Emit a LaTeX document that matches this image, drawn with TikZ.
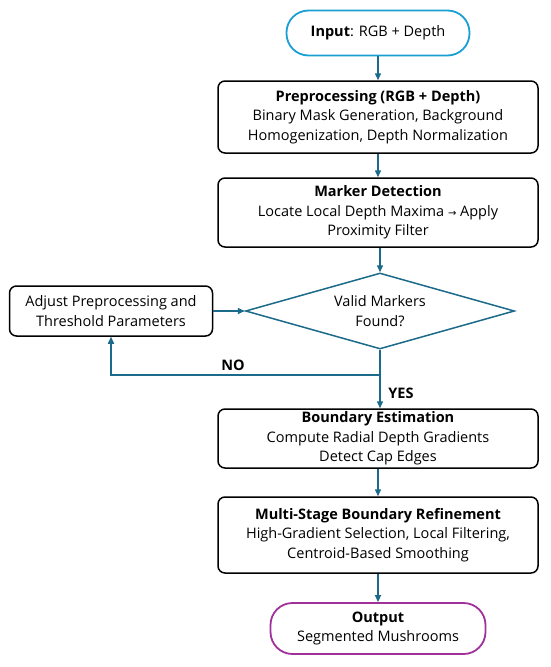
\documentclass[tikz,border=0pt]{standalone}
\usepackage{fontspec}
\setmainfont{Open Sans}
\newfontfamily\symfont{DejaVu Sans}
\usetikzlibrary{shapes.geometric,arrows.meta}
\definecolor{conn}{HTML}{1B6A8A}
\definecolor{inblue}{HTML}{1A9FD5}
\definecolor{outmag}{HTML}{A0309A}
\tikzset{
  every node/.style={font=\fontsize{14.5}{19.5}\selectfont, align=center, inner sep=0pt},
  procbox/.style={draw=black, line width=1.5pt, rounded corners=7pt, minimum width=320pt},
  termbox/.style={line width=1.8pt, rounded corners=22pt},
  decbox/.style={diamond, aspect=3.5, draw=conn, line width=1.5pt, minimum width=269pt, minimum height=76pt},
  arr/.style={draw=conn, line width=1.5pt, -{Triangle[length=7pt,width=6pt]}},
  lbl/.style={font=\fontsize{14.5}{16}\selectfont\bfseries}
}
\begin{document}
\begin{tikzpicture}
\useasboundingbox (0pt,0pt) rectangle (550pt,-667pt);
\node[termbox, draw=inblue, minimum width=183pt, minimum height=45pt] (in) at (378pt,-33pt) {\textbf{Input}: RGB + Depth};
\node[procbox, minimum height=72pt] (pre) at (378pt,-117pt) {\textbf{Preprocessing (RGB + Depth)}\\Binary Mask Generation, Background\\Homogenization, Depth Normalization};
\node[procbox, minimum height=69pt] (mark) at (378pt,-212.5pt) {\textbf{Marker Detection}\\Locate Local Depth Maxima {\symfont\fontsize{10}{10}\selectfont →} Apply\\Proximity Filter};
\node[decbox] (dec) at (380pt,-311pt) {Valid Markers\\Found?};
\node[procbox, minimum width=203pt, minimum height=50pt] (adj) at (111pt,-311pt) {Adjust Preprocessing and\\Threshold Parameters};
\node[procbox, minimum height=59pt] (bnd) at (378pt,-438.5pt) {\textbf{Boundary Estimation}\\Compute Radial Depth Gradients\\Detect Cap Edges};
\node[procbox, minimum height=76pt] (ms) at (378pt,-535pt) {\textbf{Multi-Stage Boundary Refinement}\\High-Gradient Selection, Local Filtering,\\Centroid-Based Smoothing};
\node[termbox, draw=outmag, minimum width=215pt, minimum height=51pt] (out) at (378pt,-628.5pt) {\textbf{Output}\\Segmented Mushrooms};
\coordinate (j) at (380pt,-375pt);
\draw[arr] (in) -- (pre);
\draw[arr] (pre) -- (mark);
\draw[arr] (mark.south -| dec.north) -- (dec.north);
\draw[arr] (adj.east) -- (dec.west);
\draw[arr] (dec.south) -- (dec.south |- bnd.north);
\draw[arr] (j) -| (adj.south);
\draw[arr] (bnd) -- (ms);
\draw[arr] (ms) -- (out);
\node[lbl] (no) at (233pt,-365pt) {NO};
\node[lbl] (yes) at (401pt,-393pt) {YES};
\end{tikzpicture}
\end{document}
